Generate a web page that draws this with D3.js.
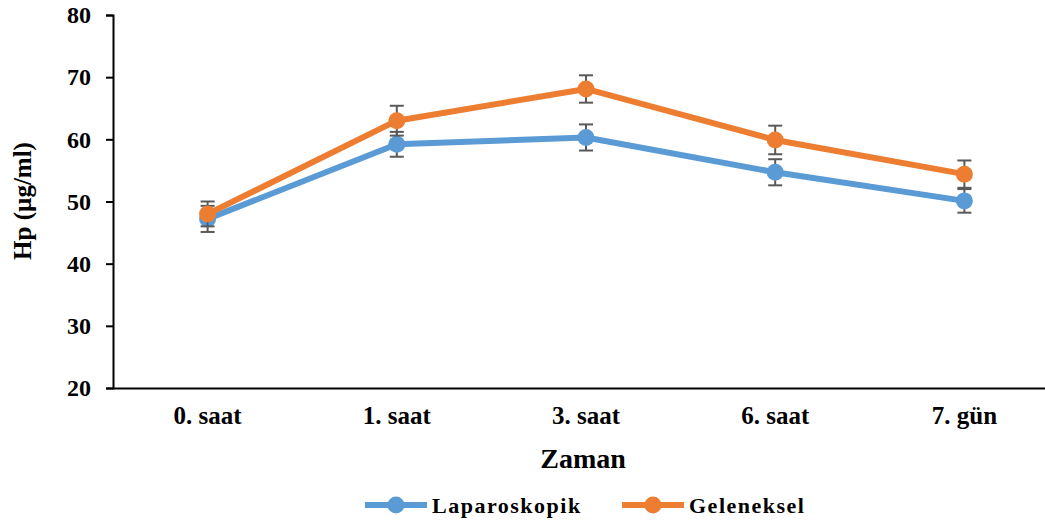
<!DOCTYPE html>
<html>
<head>
<meta charset="utf-8">
<script src="https://cdn.jsdelivr.net/npm/d3@7"></script>
<style>
  body { margin: 0; background: #fff; }
  svg { display: block; font-family: "Liberation Serif", "Times New Roman", serif; font-weight: bold; }
</style>
</head>
<body>
<div id="chart"></div>
<script>
// Dades
const zamanlar = ["0. saat", "1. saat", "3. saat", "6. saat", "7. gün"];
const laparoskopik = [47.2, 59.2, 60.3, 54.7, 50.1];
const laparoskopikHata = [2.1, 2.0, 2.1, 2.1, 1.9];
const geleneksel = [48.0, 63.0, 68.1, 59.9, 54.4];
const genelekselHata = [2.0, 2.4, 2.2, 2.3, 2.2];
const yTicks = [20, 30, 40, 50, 60, 70, 80];

const seriler = [
    { ad: "Laparoskopik", renk: "#5B9BD5", degerler: laparoskopik, hata: laparoskopikHata },
    { ad: "Geleneksel", renk: "#ED7D31", degerler: geleneksel, hata: genelekselHata }
];

const W = 1045, H = 525;
const svg = d3.select("#chart").append("svg")
    .attr("width", W)
    .attr("height", H);

// Escales
const x = d3.scaleBand()
    .domain(zamanlar)
    .range([113, 1059])
    .padding(0);

const y = d3.scaleLinear()
    .domain([20, 80])
    .range([388, 15]);

const cx = d => x(d) + x.bandwidth() / 2;

// Eix Y
const eixY = svg.append("g")
    .attr("transform", "translate(113,0)")
    .call(d3.axisLeft(y).tickValues(yTicks).tickSize(7).tickPadding(15));
eixY.select(".domain").attr("stroke", "#000").attr("stroke-width", 2);
eixY.selectAll(".tick line").attr("stroke", "#000").attr("stroke-width", 2);
eixY.selectAll("text")
    .style("font-family", "Liberation Serif")
    .style("font-weight", "bold")
    .style("font-size", "24px")
    .attr("fill", "#000");

// Eix X
const eixX = svg.append("g")
    .attr("transform", "translate(0,388)")
    .call(d3.axisBottom(x).tickSize(0).tickPadding(18));
eixX.select(".domain").attr("stroke", "#000").attr("stroke-width", 2);
eixX.selectAll("text")
    .style("font-family", "Liberation Serif")
    .style("font-weight", "bold")
    .style("font-size", "25px")
    .attr("fill", "#000");

// Linies, barres d'error i punts
const line = d3.line()
    .x((d, i) => cx(zamanlar[i]))
    .y(d => y(d));

seriler.forEach(s => {
    const g = svg.append("g");
    g.append("path")
        .attr("d", line(s.degerler))
        .attr("fill", "none")
        .attr("stroke", s.renk)
        .attr("stroke-width", 6)
        .attr("stroke-linejoin", "round");

    s.degerler.forEach((v, i) => {
        const px = cx(zamanlar[i]);
        const top = y(v + s.hata[i]);
        const bot = y(v - s.hata[i]);
        g.append("line")
            .attr("x1", px).attr("x2", px)
            .attr("y1", top).attr("y2", bot)
            .attr("stroke", "#595959").attr("stroke-width", 2);
        [top, bot].forEach(yy => {
            g.append("line")
                .attr("x1", px - 7).attr("x2", px + 7)
                .attr("y1", yy).attr("y2", yy)
                .attr("stroke", "#595959").attr("stroke-width", 2);
        });
    });

    g.selectAll("circle")
        .data(s.degerler)
        .enter()
        .append("circle")
            .attr("cx", (d, i) => cx(zamanlar[i]))
            .attr("cy", d => y(d))
            .attr("r", 8.5)
            .attr("fill", s.renk);
});

// Títols dels eixos
svg.append("text")
    .attr("x", 583)
    .attr("y", 468)
    .attr("text-anchor", "middle")
    .style("font-size", "28px")
    .text("Zaman");

svg.append("text")
    .attr("transform", "translate(31,201) rotate(-90)")
    .attr("text-anchor", "middle")
    .style("font-size", "25px")
    .text("Hp (µg/ml)");

// Llegenda
const llegenda = [
    { s: seriler[0], x0: 365 },
    { s: seriler[1], x0: 622 }
];
llegenda.forEach(l => {
    const g = svg.append("g").attr("transform", `translate(${l.x0},505)`);
    g.append("line")
        .attr("x1", 0).attr("x2", 62)
        .attr("stroke", l.s.renk).attr("stroke-width", 6);
    g.append("circle")
        .attr("cx", 31).attr("r", 8.5)
        .attr("fill", l.s.renk);
    g.append("text")
        .attr("x", 67)
        .attr("y", 8)
        .style("font-size", "22px")
        .style("letter-spacing", "1.5px")
        .text(l.s.ad);
});
</script>
</body>
</html>
